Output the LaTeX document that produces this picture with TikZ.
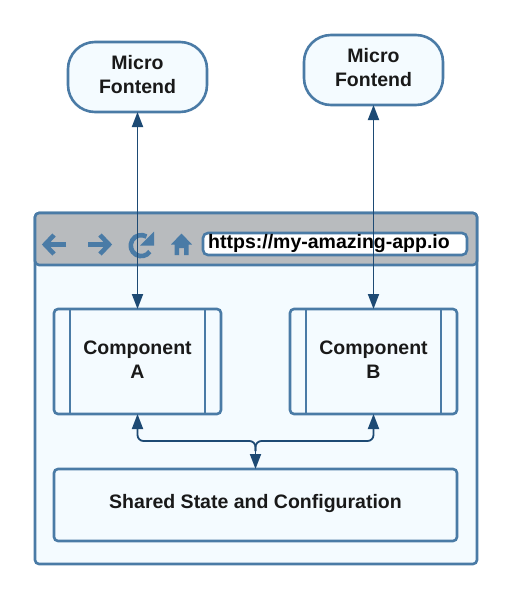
\documentclass[tikz,border=0pt]{standalone}
\usepackage{fontspec}
\setmainfont{Liberation Sans}
\usetikzlibrary{arrows.meta}
\definecolor{edge}{HTML}{4A7BA6}
\definecolor{fillb}{HTML}{F4FBFF}
\definecolor{bar}{HTML}{B8BBBE}
\definecolor{arrowc}{HTML}{1D4A74}
\tikzset{
  box/.style={draw=edge,fill=fillb,line width=2.6pt,rounded corners=4pt,minimum width=#1,inner sep=0pt,outer sep=0pt},
  label/.style={font=\bfseries\fontsize{19.5}{24}\selectfont,align=center,text=black!90},
  pill/.style={draw=edge,fill=fillb,line width=2.6pt,rounded corners=27pt,minimum width=139pt,minimum height=70pt,inner sep=0pt,outer sep=0pt,label},
  link/.style={draw=arrowc,line width=1.8pt,rounded corners=6pt},
  tip/.style={-{Triangle[length=15pt,width=11pt,fill=arrowc]}},
  tips/.style={{Triangle[length=15pt,width=11pt,fill=arrowc]}-{Triangle[length=15pt,width=11pt,fill=arrowc]}},
  icon/.style={fill=edge,draw=none},
  iconline/.style={draw=edge,line width=4.6pt}
}
\begin{document}
\begin{tikzpicture}[x=1pt,y=-1pt]
\useasboundingbox (0,0) rectangle (512,598);
\fill[white] (0,0) rectangle (512,598);
% window
\node[box=442pt,minimum height=351pt,anchor=north west] (win) at (35,213) {};
\begin{scope}
\clip[rounded corners=4pt] (35,213) rectangle (477,564);
\fill[bar] (35,213) rectangle (477,265);
\end{scope}
\draw[draw=edge,line width=2.6pt,rounded corners=4pt] (35,265) -- (35,213) -- (477,213) -- (477,265) -- cycle;
% icons
\draw[iconline] (66,244.5) -- (46,244.5);
\draw[iconline,line join=miter] (54,235) -- (45,244.5) -- (54,254);
\draw[iconline] (88,244.5) -- (108,244.5);
\draw[iconline,line join=miter] (100,235) -- (109,244.5) -- (100,254);
\draw[iconline] (146.5,236.5) arc[start angle=-60,end angle=-325,radius=10.5];
\fill[icon] (154,231.5) -- (154,245.5) -- (140,245.5) -- cycle;
\fill[icon] (181.5,233.5) -- (192,244.5) -- (188.5,244.5) -- (188.5,255) -- (184,255) -- (184,248) -- (179,248) -- (179,255) -- (174.5,255) -- (174.5,244.5) -- (171,244.5) -- cycle;
\node[draw=edge,fill=white,line width=2.6pt,rounded corners=5pt,minimum width=264pt,minimum height=22pt,inner sep=0pt,outer sep=0pt,text=black] (url) at (335,244) {};
\node[anchor=west,inner sep=0pt,font=\bfseries\fontsize{19.5}{22}\selectfont,text=black] (urltext) at (208,243.5) {https://my-amazing-app.io};
% micro frontends
\node[pill] (mfa) at (137.5,77) {};
\node[label,inner sep=0pt] (mfat) at (137.5,74.5) {Micro\\Fontend};
\node[pill] (mfb) at (373.5,70) {};
\node[label,inner sep=0pt] (mfbt) at (373.5,68) {Micro\\Fontend};
% components
\node[box=167pt,minimum height=105pt] (ca) at (137.5,361.5) {};
\node[label,inner sep=0pt] (cat) at (137.5,360) {Component\\A};
\node[box=167pt,minimum height=105pt] (cb) at (373.5,361.5) {};
\node[label,inner sep=0pt] (cbt) at (373.5,360) {Component\\B};
\draw[edge,line width=2.6pt] ([xshift=16pt]ca.north west) -- ([xshift=16pt]ca.south west);
\draw[edge,line width=2.6pt] ([xshift=-16pt]ca.north east) -- ([xshift=-16pt]ca.south east);
\draw[edge,line width=2.6pt] ([xshift=16pt]cb.north west) -- ([xshift=16pt]cb.south west);
\draw[edge,line width=2.6pt] ([xshift=-16pt]cb.north east) -- ([xshift=-16pt]cb.south east);
% shared
\node[box=403pt,minimum height=72pt,label] (st) at (255.5,505) {};
\node[label,inner sep=0pt] (stt) at (255.5,503.5) {Shared State and Configuration};
% connectors
\draw[link,tips] (mfa.south) -- (ca.north);
\draw[link,tips] (mfb.south) -- (cb.north);
\coordinate (fork) at (255.5,451);
\coordinate (bus) at (255.5,441);
\draw[link,tip] (fork) -- (bus) -- (ca.south |- bus) -- (ca.south);
\draw[link,tip] (fork) -- (bus) -- (cb.south |- bus) -- (cb.south);
\draw[link,tip] (fork) -- (st.north);
\end{tikzpicture}
\end{document}
